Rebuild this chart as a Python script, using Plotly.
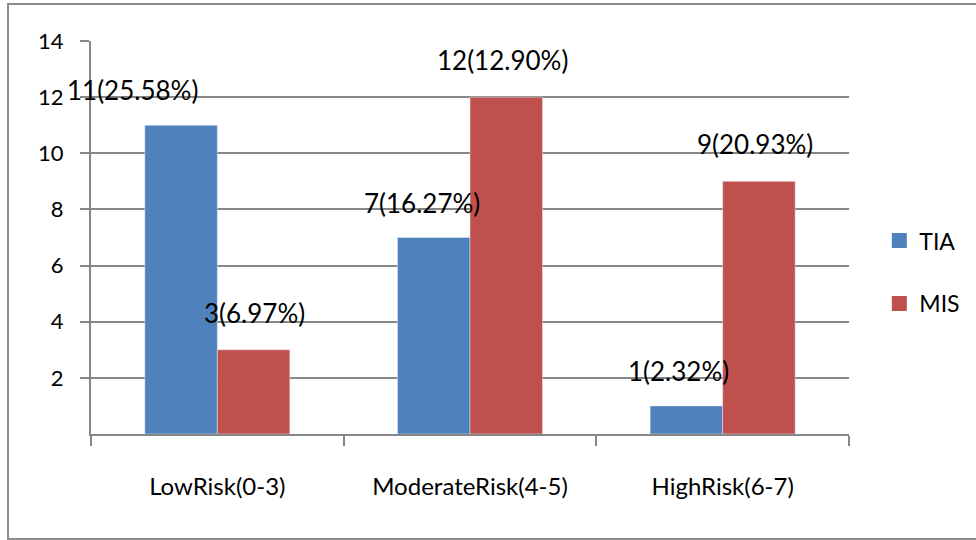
import plotly.graph_objects as go

# Risk categories and patient counts per group
categories = ["LowRisk(0-3)", "ModerateRisk(4-5)", "HighRisk(6-7)"]
tia_counts = [11, 7, 1]
mis_counts = [3, 12, 9]
tia_pct = ["25.58%", "16.27%", "2.32%"]
mis_pct = ["6.97%", "12.90%", "20.93%"]
y_ticks = [2, 4, 6, 8, 10, 12, 14]

FONT = "Lato"
GRID = "#878787"
BLUE = "#4f81bd"
RED = "#c0504d"

fig = go.Figure()
fig.add_trace(go.Bar(x=categories, y=tia_counts, name="TIA", marker_color=BLUE,
                     showlegend=False))
fig.add_trace(go.Bar(x=categories, y=mis_counts, name="MIS", marker_color=RED,
                     showlegend=False))

# legend entries drawn as square swatches
for name, color in (("TIA", BLUE), ("MIS", RED)):
    fig.add_trace(go.Scatter(x=[None], y=[None], mode="markers", name=name,
                             legendgroup=name,
                             marker=dict(symbol="square", size=15, color=color)))

# value labels sitting above each bar, count(percent)
label_nudge_tia = [-49, -12, -8]
label_nudge_mis = [1, -4, -4]
for i, cat in enumerate(categories):
    fig.add_annotation(x=cat, y=tia_counts[i], text=f"{tia_counts[i]}({tia_pct[i]})",
                       showarrow=False, yanchor="bottom", yshift=17,
                       xshift=-36 + label_nudge_tia[i],
                       font=dict(family=FONT, size=26, color="black"))
    fig.add_annotation(x=cat, y=mis_counts[i], text=f"{mis_counts[i]}({mis_pct[i]})",
                       showarrow=False, yanchor="bottom", yshift=19,
                       xshift=36 + label_nudge_mis[i],
                       font=dict(family=FONT, size=26, color="black"))

# outer frame around the whole chart
fig.add_shape(type="rect", xref="paper", yref="paper",
              x0=-0.1095, x1=1.3, y0=-0.267, y1=1.094,
              line=dict(color="#8c8c8c", width=2), fillcolor="rgba(0,0,0,0)")

fig.update_layout(
    width=976, height=540,
    margin=dict(l=91, r=127, t=41, b=106, autoexpand=False),
    paper_bgcolor="white", plot_bgcolor="white",
    barmode="group", bargap=0.426, bargroupgap=0,
    font=dict(family=FONT, color="black"),
    legend=dict(x=1.04, xanchor="left", y=0.412, yanchor="middle",
                font=dict(family=FONT, size=23), tracegroupgap=30,
                traceorder="grouped", itemwidth=30),
    showlegend=True,
)
fig.update_xaxes(
    range=[-0.5, 2.5],
    showline=True, linecolor=GRID, linewidth=2,
    ticks="outside", tickson="boundaries", ticklen=10, tickcolor=GRID, tickwidth=2,
    tickfont=dict(family=FONT, size=24), ticklabelstandoff=30,
    showgrid=False,
)
fig.update_yaxes(
    range=[0, 14], tickvals=y_ticks, ticktext=[str(v) for v in y_ticks],
    showgrid=True, gridcolor=GRID, gridwidth=2,
    showline=True, linecolor=GRID, linewidth=2,
    ticks="outside", ticklen=9, tickcolor=GRID, tickwidth=2,
    tickfont=dict(family=FONT, size=22), ticklabelstandoff=12,
    zeroline=False,
)

fig.write_html("out.html")
